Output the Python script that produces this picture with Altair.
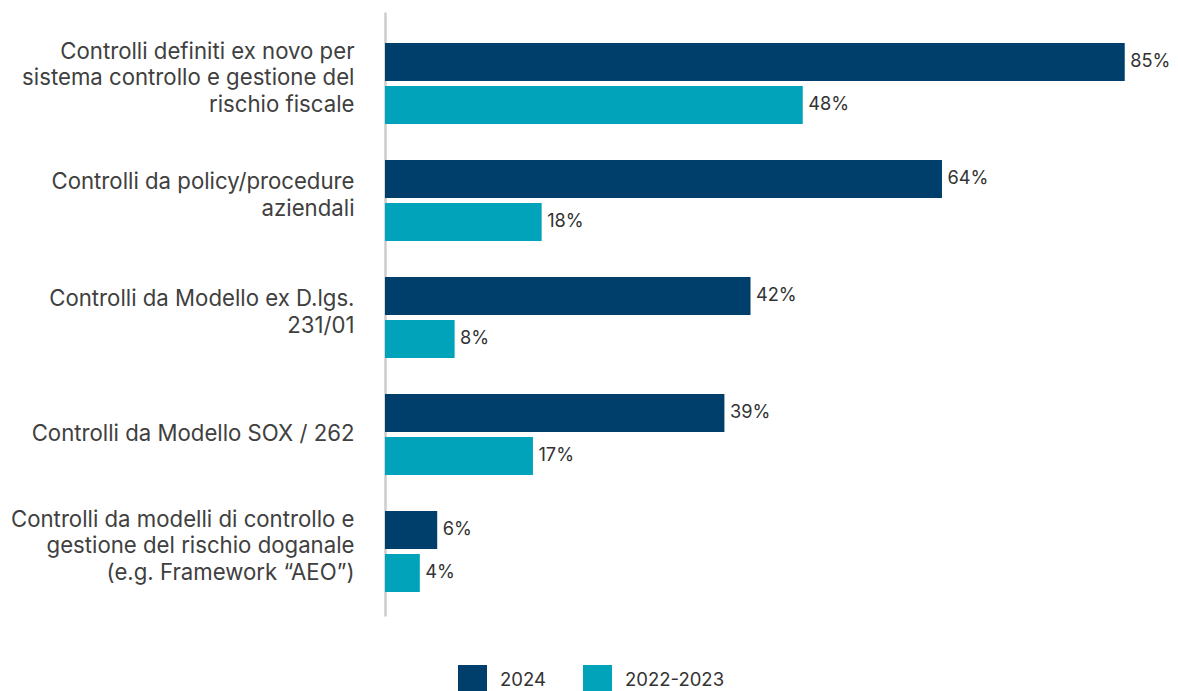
import altair as alt
import pandas as pd

categories = [
    "Controlli definiti ex novo per|sistema controllo e gestione del|rischio fiscale",
    "Controlli da policy/procedure|aziendali",
    "Controlli da Modello ex D.lgs.|231/01",
    "Controlli da Modello SOX / 262",
    "Controlli da modelli di controllo e|gestione del rischio doganale|(e.g. Framework \u201cAEO\u201d)",
]
series = ["2024", "2022-2023"]
values_2024 = [85, 64, 42, 39, 6]
values_2022_2023 = [48, 18, 8, 17, 4]
colors = ["#003f6b", "#00a3b9"]

rows = []
for c, v1, v2 in zip(categories, values_2024, values_2022_2023):
    rows.append({"cat": c, "serie": series[0], "val": v1})
    rows.append({"cat": c, "serie": series[1], "val": v2})
df = pd.DataFrame(rows)

FONT = "Inter"
nlines = "length(split(datum.value, '|'))"

y_enc = alt.Y(
    "cat:N",
    sort=categories,
    title=None,
    scale=alt.Scale(paddingInner=0.3077, paddingOuter=0.235, align=0.5636),
    axis=alt.Axis(
        labelExpr="split(datum.label, '|')",
        labelFontSize=22.2,
        labelLineHeight=26.3,
        labelColor="#404040",
        labelFont=FONT,
        labelPadding=31,
        labelLimit=420,
        labelOffset={
            "condition": [
                {"test": nlines + " == 3", "value": -31.5},
                {"test": nlines + " == 2", "value": -18},
            ],
            "value": 0,
        },
        ticks=False,
        grid=False,
        domainColor="#cccccc",
        domainWidth=2.5,
        labelAlign="right",
        labelBaseline="middle",
    ),
)
yoff = alt.YOffset("serie:N", sort=series, scale=alt.Scale(paddingInner=0.1163, paddingOuter=0))
x_enc = alt.X("val:Q", scale=alt.Scale(domain=[0, 90.2], nice=False), axis=None)

bars = alt.Chart(df).mark_bar().encode(
    x=x_enc,
    y=y_enc,
    yOffset=yoff,
    color=alt.Color(
        "serie:N",
        sort=series,
        scale=alt.Scale(domain=series, range=colors),
        legend=alt.Legend(
            title=None,
            orient="none",
            direction="horizontal",
            legendX=73,
            legendY=653,
            symbolType="square",
            symbolSize=841,
            symbolStrokeWidth=0,
            labelFontSize=18.5,
            labelFont=FONT,
            labelColor="#333333",
            labelOffset=13,
            columnPadding=37,
        ),
    ),
)

text = alt.Chart(df).transform_calculate(lbl="datum.val + '%'").mark_text(
    align="left", baseline="middle", dx=5.5, fontSize=18.2, font=FONT, color="#333333"
).encode(
    x=x_enc,
    y=alt.Y("cat:N", sort=categories),
    yOffset=yoff,
    text="lbl:N",
)

chart = (
    alt.layer(bars, text)
    .properties(
        width=785,
        height=604,
        autosize=alt.AutoSizeParams(type="none"),
        padding={"left": 377, "top": 4, "right": 0, "bottom": 75},
    )
    .configure(font=FONT)
    .configure_view(stroke="transparent", strokeWidth=0)
    .configure_axis(grid=False)
)

chart.save("out.html", embed_options={"renderer": "svg", "actions": False})
